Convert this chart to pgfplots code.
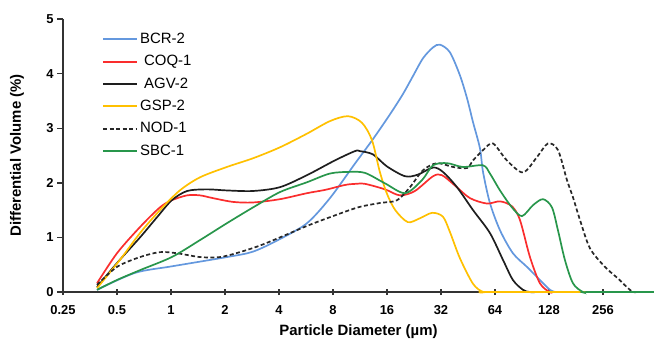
\documentclass[border=0pt]{standalone}
\usepackage{pgfplots}
\pgfplotsset{compat=1.18}
\usepackage{fontspec}
\setmainfont{Liberation Sans}
\definecolor{cBCR}{RGB}{100,152,222}
\definecolor{cCOQ}{RGB}{250,45,45}
\definecolor{cAGV}{RGB}{30,30,30}
\definecolor{cGSP}{RGB}{255,192,0}
\definecolor{cNOD}{RGB}{40,40,40}
\definecolor{cSBC}{RGB}{40,150,75}
\begin{document}
\begin{tikzpicture}
\path[use as bounding box] (-63bp,-49bp) rectangle (591bp,292bp);
\begin{axis}[
  scale only axis, width=591bp, height=273bp,
  at={(0,0)}, anchor=south west,
  xmode=log, log basis x=2,
  xmin=0.25, xmax=493, ymin=0, ymax=5,
  axis lines=left, axis line style={-, line width=1.6bp, black!80},
  xtick={0.25,0.5,1,2,4,8,16,32,64,128,256},
  xticklabels={0.25,0.5,1,2,4,8,16,32,64,128,256},
  ytick={0,1,2,3,4,5},
  xtick align=center, ytick align=outside,
  major tick length=6bp,
  tick style={line width=1.4bp, black!80},
  ticklabel style={font=\fontsize{13}{13}\selectfont\bfseries, /pgf/number format/assume math mode=true},
  xticklabel style={yshift=-7bp},
  xlabel={Particle Diameter (µm)},
  ylabel={Differential Volume (\%)},
  label style={font=\fontsize{15}{15}\selectfont\bfseries},
  xlabel style={at={(axis description cs:0.5,-0.145)}, anchor=center},
  ylabel style={at={(axis description cs:-0.0778,0.5)}, anchor=center},
  clip=false, no markers,
  every axis plot/.append style={line width=1.7bp, smooth, tension=0.5},
  legend cell align=left,
  legend image code/.code={\draw[#1, line width=2bp] (0bp,0bp) -- (34bp,0bp);},
  legend style={draw=none, fill=none, inner sep=0pt,
    at={(axis description cs:0.066,0.956)}, anchor=north west,
    font=\fontsize{15}{15}\selectfont,
    nodes={inner sep=1bp, text height=11bp, text depth=3bp},
    row sep=6.4bp, column sep=1bp},
]
\addplot[cBCR] coordinates {(0.387,0.04) (0.63,0.35) (1.01,0.47) (2.05,0.64) (2.87,0.74) (4.05,0.97) (5.73,1.26) (7.7,1.72) (10.6,2.35) (13.37,2.8) (16.6,3.25) (19.6,3.62) (22.3,3.95) (25.4,4.28) (28.9,4.48) (31.6,4.53) (35.9,4.39) (40.8,3.97) (44.7,3.55) (48.3,3.11) (52.8,2.63) (54.9,2.2) (60,1.63) (68.3,1.13) (80.6,0.71) (96.5,0.46) (114,0.22) (129.7,0.04) (140,0) (160,0) (493,0)};
\addlegendentry{BCR-2}
\addplot[cCOQ] coordinates {(0.387,0.16) (0.5,0.71) (0.672,1.19) (0.868,1.55) (1.01,1.68) (1.23,1.77) (1.45,1.77) (1.71,1.72) (2.22,1.65) (2.87,1.64) (4.05,1.70) (5.73,1.81) (7.22,1.87) (9.33,1.96) (10.6,1.98) (12.1,1.98) (15.6,1.88) (18.9,1.77) (22.9,1.85) (28.9,2.12) (32.4,2.14) (38.3,1.95) (46.4,1.72) (57.8,1.62) (68.3,1.66) (79.6,1.57) (88.2,1.32) (100.3,0.64) (114,0.16) (129.7,0) (145,0) (493,0)};
\addlegendentry{\hspace{4bp}COQ-1}
\addplot[cAGV] coordinates {(0.387,0.09) (0.5,0.53) (0.672,1.0) (0.836,1.37) (1.01,1.68) (1.23,1.85) (1.59,1.88) (2.05,1.86) (2.87,1.85) (4.05,1.92) (5.73,2.14) (8.2,2.41) (10.6,2.58) (11.31,2.58) (13.37,2.52) (16,2.3) (20.2,2.12) (23.8,2.15) (28.9,2.28) (32.8,2.2) (39.3,1.92) (48.3,1.5) (60,1.08) (70.9,0.59) (80.6,0.22) (91.7,0.04) (100,0) (115,0) (493,0)};
\addlegendentry{\hspace{4bp}AGV-2}
\addplot[cGSP] coordinates {(0.387,0.07) (0.52,0.59) (0.672,1.08) (0.868,1.5) (1.12,1.86) (1.45,2.1) (2.05,2.29) (2.87,2.45) (4.05,2.65) (5.73,2.9) (7.7,3.13) (9.7,3.22) (11.6,3.1) (13.2,2.78) (14.6,2.2) (16,1.8) (17.8,1.5) (20.9,1.28) (24.4,1.35) (28.6,1.45) (32.8,1.38) (35.9,1.1) (40.8,0.62) (48.3,0.15) (55,0) (62,0) (493,0)};
\addlegendentry{GSP-2}
\addplot[cNOD, dash pattern=on 4bp off 2.5bp] coordinates {(0.387,0.13) (0.5,0.46) (0.672,0.64) (0.868,0.73) (1.08,0.71) (1.45,0.64) (1.88,0.64) (2.42,0.73) (3.13,0.85) (4.05,1.0) (5.73,1.21) (7.7,1.37) (11.03,1.55) (14.62,1.63) (18.19,1.68) (21.5,1.92) (25.4,2.23) (30.4,2.36) (37.3,2.29) (44.7,2.27) (48.3,2.41) (55,2.6) (62.4,2.72) (74.6,2.41) (91.7,2.19) (109.7,2.47) (126.3,2.72) (143.7,2.6) (161.3,2.05) (174,1.74) (190.6,1.32) (216.7,0.8) (262.7,0.46) (310,0.25) (348,0.09) (376,0) (400,0) (493,0)};
\addlegendentry{NOD-1}
\addplot[cSBC] coordinates {(0.387,0.04) (0.5,0.22) (0.672,0.40) (1.01,0.64) (1.45,0.95) (2.05,1.26) (2.87,1.55) (4.05,1.83) (5.73,2.01) (7.7,2.17) (9.95,2.2) (12.1,2.18) (15.6,1.99) (20.2,1.81) (25.1,2.05) (28.9,2.32) (34.6,2.36) (42.4,2.29) (54.9,2.32) (60,2.17) (68.3,1.86) (79.6,1.55) (90.5,1.39) (104.3,1.59) (118.5,1.7) (133,1.55) (143.7,1.13) (157,0.59) (174.2,0.16) (198,0) (215,0) (493,0)};
\addlegendentry{SBC-1}
\end{axis}
\end{tikzpicture}
\end{document}
